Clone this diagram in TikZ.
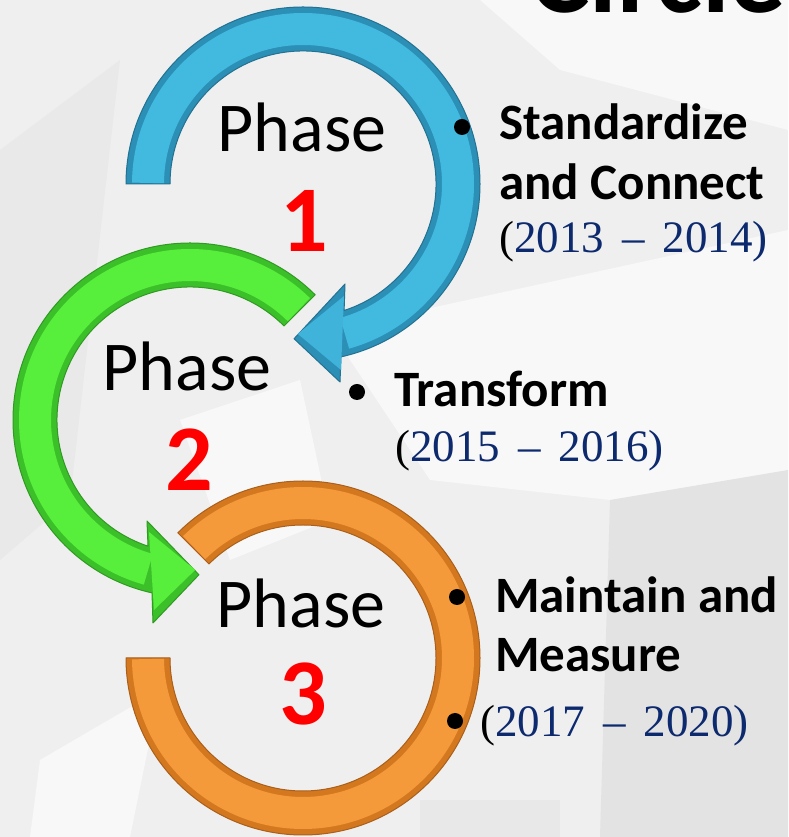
\documentclass[tikz,border=0pt]{standalone}
\usepackage{fontspec}
\newfontfamily\calfont{Carlito}
\newfontfamily\yearfont{Liberation Serif}
\usetikzlibrary{calc}
\definecolor{bluefill}{HTML}{42B9DF}
\definecolor{blueedge}{HTML}{2C8FB6}
\definecolor{greenfill}{HTML}{58EE3C}
\definecolor{greenedge}{HTML}{3CC02A}
\definecolor{orangefill}{HTML}{F49A3A}
\definecolor{orangeedge}{HTML}{D47820}
\definecolor{navy}{HTML}{0D2A6E}
\definecolor{phasered}{HTML}{FF0000}
\definecolor{bgbase}{HTML}{EFEFEF}
\definecolor{bglight}{HTML}{F8F8F8}
\definecolor{bgdark}{HTML}{E3E3E3}
\begin{document}
\begin{tikzpicture}[x=1pt,y=1pt,
  phase/.style={font=\calfont\fontsize{70}{80}\selectfont, anchor=base, inner sep=0},
  num/.style={font=\calfont\bfseries\fontsize{94}{100}\selectfont, text=phasered, anchor=base, inner sep=0},
  item/.style={font=\calfont\bfseries\fontsize{51}{60}\selectfont, anchor=base west, inner sep=0},
  years/.style={font=\yearfont\fontsize{45}{50}\selectfont, anchor=base west, inner sep=0},
  title/.style={font=\calfont\bfseries\fontsize{112}{120}\selectfont, anchor=base west, inner sep=0},
  dot/.style={circle, fill=black, inner sep=0, minimum size=16},
  ring/.style={line width=1, line join=round},
  shade/.style={fill=black, opacity=0.16},
  band/.style={line width=32}]
\useasboundingbox (0,0) rectangle (788,837);
% background
\fill[bgbase] (0,0) rectangle (788,837);
\begin{scope}[shift={(0,837)}, yscale=-1]
  \fill[bglight] (330,330) -- (788,230) -- (788,500) -- (610,500) -- (430,480) -- cycle;
  \fill[bglight] (480,0) -- (788,0) -- (788,130) -- (560,70) -- cycle;
  \fill[bgdark] (610,500) -- (788,470) -- (788,837) -- (600,837) -- cycle;
  \fill[bgdark!50!bgbase] (0,150) -- (120,60) -- (70,500) -- (0,560) -- cycle;
  \fill[bglight] (40,760) -- (160,690) -- (130,837) -- (30,837) -- cycle;
  \fill[bglight] (180,420) -- (300,380) -- (330,520) -- (230,560) -- cycle;
  \fill[bgdark!60!bgbase] (420,800) -- (560,800) -- (560,837) -- (420,837) -- cycle;
\end{scope}
% title, cut off at the top edge as in the reference
\node[title] (title) at (530,824) {Circle};
% centres
\coordinate (O) at (303,179);
\coordinate (G) at (190,417);
\coordinate (B) at (303,653);
\def\orangepath{($(O)+(135:133)$) -- ($(O)+(135:177)$) arc[start angle=135, end angle=-180, radius=177]
  -- ($(O)+(180:133)$) arc[start angle=-180, end angle=135, radius=133] -- cycle}
\def\greenpath{($(G)+(45:133)$) -- ($(G)+(45:177)$) arc[start angle=45, end angle=257.6, radius=177]
  -- ($(G)+(-37,-203)$) -- ($(G)+(273.3:155)$) -- ($(G)+(-43,-101)$)
  -- ($(G)+(251.6:133)$) arc[start angle=251.6, end angle=45, radius=133] -- cycle}
\def\bluepath{($(B)+(180:133)$) -- ($(B)+(180:177)$) arc[start angle=180, end angle=-77.6, radius=177]
  -- ($(B)+(37,-198)$) -- ($(B)+(-93.3:155)$) -- ($(B)+(42,-100)$)
  -- ($(B)+(-72:133)$) arc[start angle=-72, end angle=180, radius=133] -- cycle}
% orange ring (phase 3)
\begin{scope}[shift={(3,-4)}] \path[shade] \orangepath; \end{scope}
\path[ring, fill=orangeedge, draw=orangeedge!80!black] \orangepath;
\draw[band, orangefill] ($(O)+(134.6:155)$) arc[start angle=134.6, end angle=-179.6, radius=155];
% green arrow (phase 2)
\begin{scope}[shift={(3,-4)}] \path[shade] \greenpath; \end{scope}
\path[ring, fill=greenedge, draw=greenedge!80!black] \greenpath;
\draw[band, greenfill] ($(G)+(45.4:155)$) arc[start angle=45.4, end angle=254.4, radius=155];
\path[fill=greenfill] ($(G)+(-36,-190)$) -- ($(G)+(272:150)$) -- ($(G)+(-41,-112)$) -- cycle;
% blue arrow (phase 1)
\begin{scope}[shift={(3,-4)}] \path[shade] \bluepath; \end{scope}
\path[ring, fill=blueedge, draw=blueedge!80!black] \bluepath;
\draw[band, bluefill] ($(B)+(179.6:155)$) arc[start angle=179.6, end angle=-74.4, radius=155];
\path[fill=bluefill!85!blueedge] ($(B)+(38,-186)$) -- ($(B)+(-92:150)$) -- ($(B)+(41,-112)$) -- cycle;
% phase labels
\node[phase] (p1) at (302,685) {Phase};
\node[num] (n1) at (304,585) {1};
\node[phase] (p2) at (187,446) {Phase};
\node[num] (n2) at (189,346) {2};
\node[phase] (p3) at (301,209) {Phase};
\node[num] (n3) at (303,112) {3};
% phase 1 text
\node[dot] (d1) at (462,710) {};
\node[item] (t1a) at (499,697) {Standardize};
\node[item] (t1b) at (499,637) {and Connect};
\node[years] (y1) at (499,584) {(\textcolor{navy}{2013\hspace{0.4em}–\hspace{0.4em}2014)}};
% phase 2 text
\node[dot] (d2) at (357,445) {};
\node[item] (t2a) at (394,430) {Transform};
\node[years] (y2) at (395,375) {(\textcolor{navy}{2015\hspace{0.4em}–\hspace{0.4em}2016)}};
% phase 3 text
\node[dot] (d3a) at (457,240) {};
\node[item] (t3a) at (495,224) {Maintain and};
\node[item] (t3b) at (495,165) {Measure};
\node[dot] (d3b) at (455,116) {};
\node[years] (y3) at (480,100) {(\textcolor{navy}{2017\hspace{0.4em}–\hspace{0.4em}2020)}};
\end{tikzpicture}
\end{document}
